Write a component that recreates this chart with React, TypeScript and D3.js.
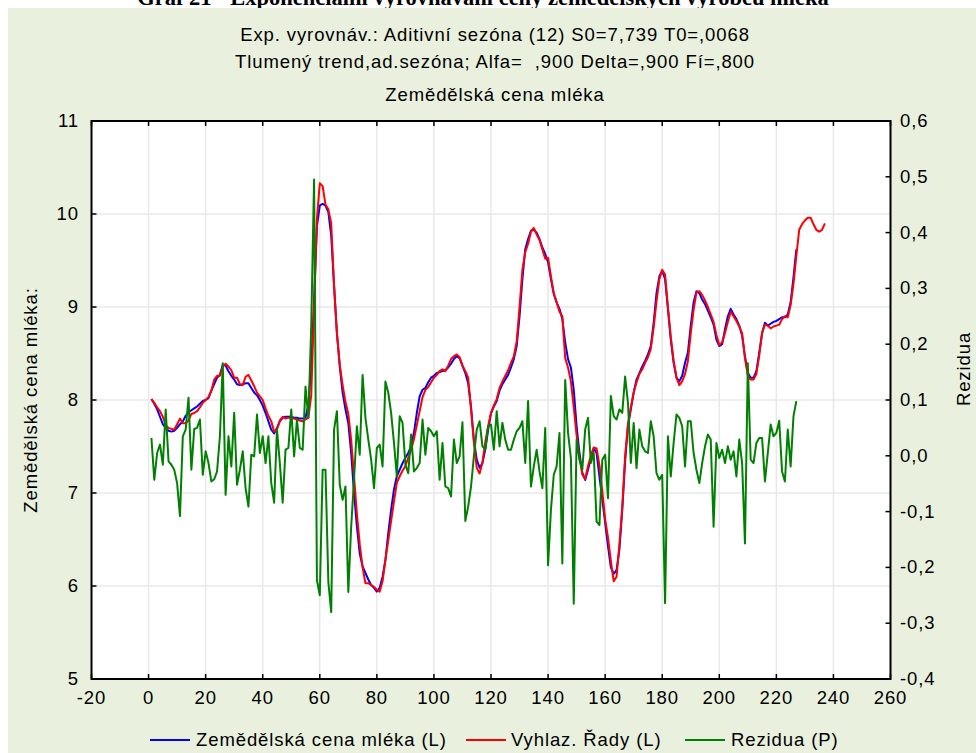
import React from "react";
import * as d3 from "d3";

// ---- DATA (t = index + 1) ----
const observed: number[] = [
  8.01, 7.96, 7.90, 7.82, 7.74, 7.70, 7.67, 7.66, 7.67, 7.70,
  7.74, 7.77, 7.83, 7.87, 7.89, 7.91, 7.93, 7.96, 7.99, 8.00,
  8.02, 8.10, 8.17, 8.24, 8.27, 8.38, 8.37, 8.31, 8.26, 8.22,
  8.17, 8.16, 8.17, 8.18, 8.18, 8.13, 8.08, 8.05, 8.00, 7.94,
  7.86, 7.77, 7.68, 7.64, 7.70, 7.77, 7.81, 7.82, 7.82, 7.82,
  7.81, 7.81, 7.80, 7.80, 7.81, 7.95, 8.36, 9.08, 9.87, 10.09,
  10.11, 10.09, 10.02, 9.77, 9.23, 8.72, 8.36, 8.08, 7.90, 7.75,
  7.43, 7.00, 6.64, 6.35, 6.21, 6.14, 6.07, 6.01, 5.98, 5.94,
  5.98, 6.10, 6.28, 6.57, 6.82, 7.04, 7.18, 7.25, 7.32, 7.38,
  7.43, 7.50, 7.65, 7.86, 8.04, 8.11, 8.13, 8.19, 8.24, 8.26,
  8.29, 8.30, 8.31, 8.32, 8.35, 8.39, 8.44, 8.47, 8.45, 8.37,
  8.29, 8.18, 7.93, 7.57, 7.36, 7.27, 7.32, 7.47, 7.68, 7.86,
  7.93, 7.99, 8.10, 8.17, 8.22, 8.27, 8.35, 8.44, 8.58, 8.90,
  9.30, 9.62, 9.73, 9.82, 9.83, 9.80, 9.73, 9.64, 9.57, 9.48,
  9.30, 9.14, 9.05, 8.98, 8.87, 8.62, 8.44, 8.35, 8.11, 7.72,
  7.43, 7.22, 7.14, 7.25, 7.38, 7.48, 7.43, 7.18, 6.93, 6.68,
  6.43, 6.20, 6.13, 6.17, 6.39, 6.82, 7.34, 7.72, 7.90, 8.08,
  8.22, 8.29, 8.36, 8.42, 8.49, 8.58, 8.83, 9.15, 9.33, 9.39,
  9.30, 8.98, 8.65, 8.40, 8.24, 8.20, 8.26, 8.40, 8.51, 8.80,
  9.05, 9.17, 9.15, 9.08, 9.03, 8.96, 8.89, 8.81, 8.65, 8.58,
  8.60, 8.76, 8.90, 8.98, 8.92, 8.87, 8.80, 8.69, 8.47, 8.29,
  8.24, 8.24, 8.31, 8.51, 8.72, 8.83, 8.80, 8.82, 8.84, 8.85,
  8.87, 8.89, 8.89, 8.92, 9.05, 9.32, 9.62,
];

const smoothed: number[] = [
  8.01, 7.97, 7.92, 7.88, 7.82, 7.73, 7.70, 7.69, 7.68, 7.74,
  7.80, 7.75, 7.75, 7.78, 7.85, 7.86, 7.88, 7.92, 7.97, 8.00,
  8.03, 8.10, 8.22, 8.26, 8.26, 8.36, 8.39, 8.36, 8.32, 8.24,
  8.24, 8.17, 8.16, 8.25, 8.27, 8.21, 8.15, 8.08, 8.04, 8.00,
  7.91, 7.83, 7.77, 7.66, 7.68, 7.78, 7.82, 7.80, 7.81, 7.80,
  7.80, 7.79, 7.78, 7.77, 7.79, 7.81, 8.05, 9.00, 9.95, 10.33,
  10.30, 10.10, 10.05, 9.90, 9.23, 8.72, 8.38, 8.16, 7.98, 7.85,
  7.57, 7.18, 6.78, 6.45, 6.20, 6.03, 6.03, 6.01, 5.99, 5.96,
  5.94, 6.05, 6.28, 6.49, 6.70, 6.91, 7.11, 7.18, 7.24, 7.29,
  7.38, 7.46, 7.58, 7.73, 7.88, 8.03, 8.11, 8.14, 8.19, 8.24,
  8.27, 8.31, 8.33, 8.31, 8.37, 8.44, 8.47, 8.49, 8.46, 8.37,
  8.31, 8.24, 7.90, 7.55, 7.27, 7.21, 7.33, 7.55, 7.72, 7.86,
  7.94, 8.01, 8.13, 8.20, 8.26, 8.32, 8.40, 8.47, 8.63, 9.00,
  9.40, 9.59, 9.68, 9.81, 9.85, 9.78, 9.72, 9.62, 9.52, 9.53,
  9.33, 9.15, 9.05, 8.95, 8.90, 8.45, 8.35, 8.20, 7.92, 7.62,
  7.38, 7.20, 7.15, 7.29, 7.40, 7.49, 7.48, 7.30, 7.02, 6.72,
  6.52, 6.27, 6.05, 6.10, 6.45, 6.85, 7.40, 7.74, 7.92, 8.08,
  8.19, 8.28, 8.33, 8.40, 8.46, 8.55, 8.78, 9.06, 9.30, 9.40,
  9.35, 9.00, 8.68, 8.42, 8.24, 8.16, 8.20, 8.28, 8.42, 8.72,
  8.97, 9.16, 9.17, 9.13, 9.07, 9.00, 8.92, 8.84, 8.70, 8.59,
  8.62, 8.72, 8.84, 8.95, 8.90, 8.85, 8.79, 8.72, 8.45, 8.26,
  8.22, 8.22, 8.28, 8.48, 8.72, 8.81, 8.80, 8.77, 8.79, 8.80,
  8.81, 8.87, 8.90, 8.89, 9.02, 9.25, 9.55, 9.83, 9.89, 9.93,
  9.96, 9.96, 9.89, 9.83, 9.81, 9.83, 9.90,
];

const residuals: number[] = [
  0.032, -0.043, 0.005, 0.020, -0.016, 0.083, -0.010, -0.016, -0.025, -0.049,
  -0.108, 0.035, 0.047, 0.104, -0.025, 0.048, 0.050, 0.065, -0.034, 0.008,
  -0.013, -0.046, -0.042, -0.028, 0.035, 0.166, -0.070, 0.035, -0.019, 0.077,
  -0.052, -0.025, 0.008, -0.058, -0.091, 0.002, -0.001, 0.074, 0.005, 0.035,
  -0.013, 0.035, -0.049, -0.084, 0.047, -0.013, -0.084, 0.011, 0.014, 0.083,
  -0.001, 0.065, 0.014, 0.011, 0.124, 0.068, 0.232, 0.495, -0.223, -0.250,
  -0.025, -0.025, -0.226, -0.280, 0.047, 0.080, -0.052, -0.079, -0.055, -0.244,
  -0.127, -0.043, 0.053, 0.002, 0.145, 0.068, 0.029, -0.007, -0.058, 0.014,
  0.020, -0.019, 0.133, 0.113, 0.077, 0.023, -0.037, 0.071, 0.059, -0.016,
  -0.031, 0.038, -0.028, -0.022, -0.013, 0.065, 0.002, 0.050, 0.044, 0.035,
  0.044, -0.043, 0.023, -0.055, -0.058, -0.073, 0.029, -0.013, -0.001, 0.060,
  -0.117, -0.091, -0.055, -0.001, 0.047, 0.062, 0.017, 0.011, 0.053, 0.056,
  0.011, 0.080, 0.017, 0.059, 0.029, 0.011, 0.011, 0.029, 0.044, 0.050,
  0.062, -0.013, 0.098, -0.055, -0.019, 0.011, -0.028, -0.058, 0.050, -0.196,
  -0.097, -0.034, -0.019, 0.041, -0.193, 0.136, 0.041, -0.004, -0.265, 0.029,
  -0.007, -0.025, 0.047, 0.068, -0.013, 0.005, -0.118, -0.124, -0.007, 0.002,
  -0.076, 0.107, 0.071, 0.065, 0.083, 0.077, 0.142, 0.095, -0.013, 0.059,
  -0.022, 0.047, 0.017, 0.008, 0.005, 0.062, 0.035, -0.031, -0.043, -0.034,
  -0.264, 0.035, -0.037, 0.023, 0.074, 0.068, 0.053, -0.019, 0.062, 0.062,
  0.005, -0.025, -0.049, -0.013, 0.017, 0.038, 0.029, -0.127, 0.023, -0.004,
  0.011, -0.013, 0.017, -0.007, 0.008, -0.037, 0.029, -0.013, -0.157, 0.166,
  -0.007, -0.013, 0.023, 0.032, 0.032, -0.046, 0.005, 0.056, 0.035, 0.041,
  0.063, -0.028, -0.046, 0.047, -0.019, 0.071, 0.098,
];

const xTicks: number[] = [-20, 0, 20, 40, 60, 80, 100, 120, 140, 160, 180, 200, 220, 240, 260];
const yLeftTicks: number[] = [5, 6, 7, 8, 9, 10, 11];
const yRightTicks: number[] = [-0.4, -0.3, -0.2, -0.1, 0, 0.1, 0.2, 0.3, 0.4, 0.5, 0.6];

const pageTitle = "Graf 21 - Exponenciální vyrovnávání ceny zemědělských výrobců mléka";
const titleLines: string[] = [
  "Exp. vyrovnáv.: Aditivní sezóna (12) S0=7,739 T0=,0068",
  "Tlumený trend,ad.sezóna; Alfa=  ,900 Delta=,900 Fí=,800",
  "Zemědělská cena mléka",
];
const leftAxisTitle = "Zemědělská cena mléka:";
const rightAxisTitle = "Rezidua";
const seriesNames: string[] = ["Zemědělská cena mléka (L)", "Vyhlaz. Řady (L)", "Rezidua (P)"];
const seriesColors: string[] = ["#0000ff", "#ff0000", "#008000"];

const W = 976;
const H = 753;
const PL = 91.5, PR = 890.5, PT = 121, PB = 679;
const FONT = "'Liberation Sans', Arial, sans-serif";
const FS = 18.5;
const LS = 0.9;

export default function App() {
  const x = d3.scaleLinear().domain([-20, 260]).range([PL, PR]);
  const yL = d3.scaleLinear().domain([5, 11]).range([PB, PT]);
  const yR = d3.scaleLinear().domain([-0.4, 0.6]).range([PB, PT]);

  const lineL = d3.line<number>().x((_, i) => x(i + 1)).y((d) => yL(d));
  const lineR = d3.line<number>().x((_, i) => x(i + 1)).y((d) => yR(d));

  const fmtR = (v: number) => d3.format(".1f")(v).replace(".", ",").replace("−", "-");

  const legendItems = [
    { x: 150, tx: 196, name: seriesNames[0], color: seriesColors[0] },
    { x: 466, tx: 511, name: seriesNames[1], color: seriesColors[1] },
    { x: 685, tx: 731, name: seriesNames[2], color: seriesColors[2] },
  ];

  return (
    <svg
      width={W}
      height={H}
      style={{ position: "absolute", left: 0, top: 0, background: "#ffffff" }}
      fontFamily={FONT}
      letterSpacing={LS}
    >
      <text
        x={483}
        y={5}
        textAnchor="middle"
        fontFamily="'Liberation Serif', 'Times New Roman', serif"
        fontWeight="bold"
        fontSize={22.5}
        letterSpacing={0}
        fill="#000"
      >
        {pageTitle}
      </text>
      <rect x={8} y={8} width={W - 8} height={H - 8} fill="#e9f0dd" />
      <rect x={PL} y={PT} width={PR - PL} height={PB - PT} fill="#ffffff" />

      {titleLines.map((t, i) => (
        <text
          key={i}
          x={495}
          y={[41, 68, 101][i]}
          textAnchor="middle"
          fontSize={FS}
          fill="#000"
          style={{ whiteSpace: "pre" }}
        >
          {t}
        </text>
      ))}

      {/* grid */}
      {xTicks.map((t) => (
        <line key={"gx" + t} x1={x(t)} x2={x(t)} y1={PT} y2={PB} stroke="#e8e8e8" strokeWidth={1.5} />
      ))}
      {yLeftTicks.map((t) => (
        <line key={"gy" + t} x1={PL} x2={PR} y1={yL(t)} y2={yL(t)} stroke="#e8e8e8" strokeWidth={1.5} />
      ))}

      {/* series */}
      <path d={lineL(observed) || ""} fill="none" stroke={seriesColors[0]} strokeWidth={2} strokeLinejoin="round" />
      <path d={lineL(smoothed) || ""} fill="none" stroke={seriesColors[1]} strokeWidth={2} strokeLinejoin="round" />
      <path d={lineR(residuals) || ""} fill="none" stroke={seriesColors[2]} strokeWidth={2} strokeLinejoin="round" />

      {/* frame */}
      <rect x={PL} y={PT} width={PR - PL} height={PB - PT} fill="none" stroke="#000" strokeWidth={2} />

      {/* ticks */}
      {xTicks.map((t) => (
        <g key={"tx" + t}>
          <line x1={x(t)} x2={x(t)} y1={PB} y2={PB - 5} stroke="#000" strokeWidth={1.5} />
          <line x1={x(t)} x2={x(t)} y1={PT} y2={PT + 5} stroke="#000" strokeWidth={1.5} />
          <text x={x(t)} y={704} textAnchor="middle" fontSize={FS} fill="#000">
            {t}
          </text>
        </g>
      ))}
      {yLeftTicks.map((t) => (
        <g key={"ty" + t}>
          <line x1={PL} x2={PL + 5} y1={yL(t)} y2={yL(t)} stroke="#000" strokeWidth={1.5} />
          <text x={79} y={yL(t) + 6} textAnchor="end" fontSize={FS} fill="#000">
            {t}
          </text>
        </g>
      ))}
      {yRightTicks.map((t) => (
        <g key={"tr" + t}>
          <line x1={PR} x2={PR - 5} y1={yR(t)} y2={yR(t)} stroke="#000" strokeWidth={1.5} />
          <text x={900} y={yR(t) + 6} textAnchor="start" fontSize={FS} fill="#000">
            {fmtR(t)}
          </text>
        </g>
      ))}

      <text transform="translate(37,400) rotate(-90)" textAnchor="middle" fontSize={FS} fill="#000">
        {leftAxisTitle}
      </text>
      <text transform="translate(970,369) rotate(-90)" textAnchor="middle" fontSize={FS} fill="#000">
        {rightAxisTitle}
      </text>

      {legendItems.map((it) => (
        <g key={it.name}>
          <line x1={it.x} x2={it.x + 40} y1={740} y2={740} stroke={it.color} strokeWidth={2} />
          <text x={it.tx} y={746} fontSize={FS} fill="#000">
            {it.name}
          </text>
        </g>
      ))}
    </svg>
  );
}
